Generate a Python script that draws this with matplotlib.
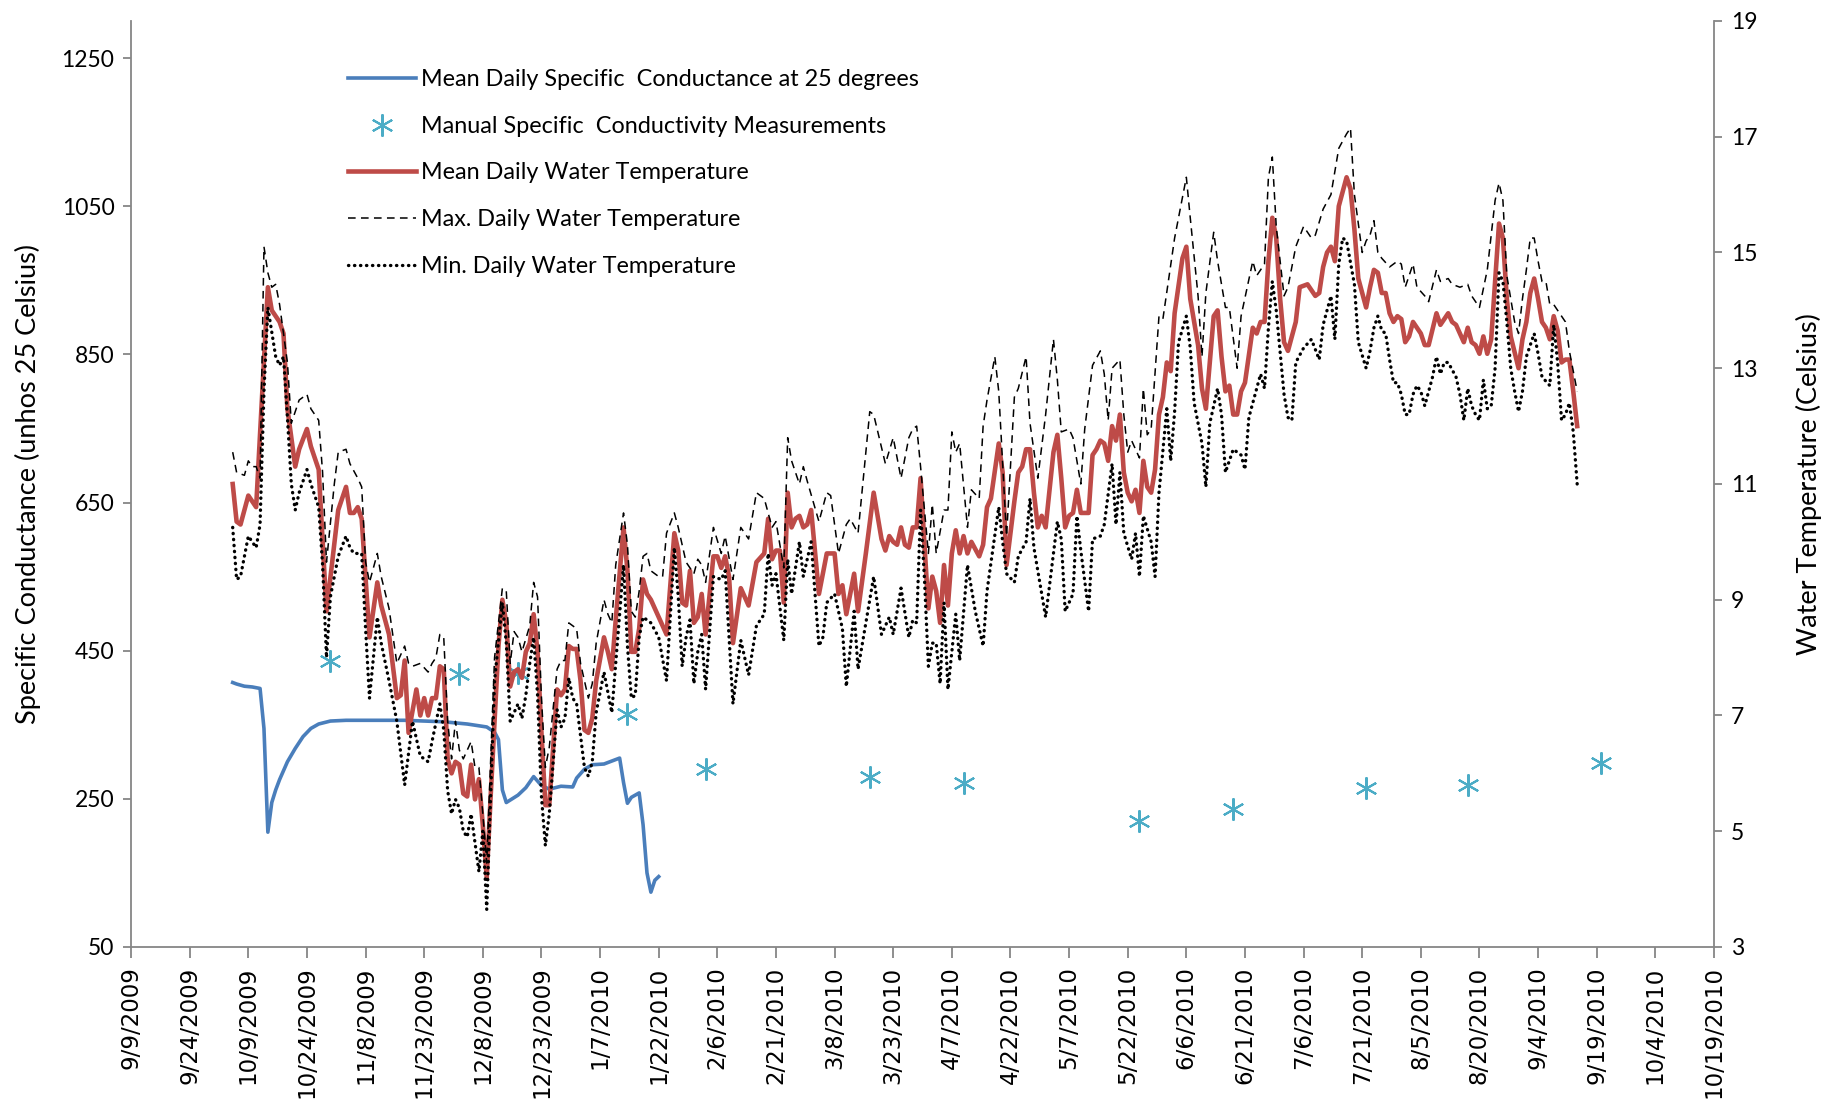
import matplotlib
matplotlib.use('Agg')
import matplotlib.pyplot as plt
import pandas as pd

plt.rcParams['font.family'] = ['Lato', 'DejaVu Sans']

# all day numbers are days since 9/9/2009
START = pd.Timestamp('2009-09-09')
END = pd.Timestamp('2010-10-19')

# Mean daily specific conductance at 25 degrees
cond_days = [26, 27, 29, 31, 33, 34, 35, 36, 37, 38,
             39, 40, 42, 44, 46, 48, 51, 55, 70, 80,
             86, 91, 93, 94, 95, 96, 99, 101, 103, 105,
             107, 110, 113, 114, 116, 118, 121, 125, 126, 127,
             128, 130, 131, 132, 133, 134, 135]
cond_vals = [407, 405, 402, 401, 399, 345, 205, 245, 262, 276,
             288, 300, 318, 334, 345, 351, 355, 356, 356, 354,
             351, 347, 340, 330, 262, 245, 255, 265, 280, 268,
             263, 267, 266, 278, 290, 296, 297, 305, 272, 244,
             252, 258, 215, 150, 124, 140, 145]

# Manual specific conductivity measurements
manual_days = [51, 84, 99, 127, 147, 189, 213, 258, 282, 316, 342, 376]
manual_vals = [436, 418, 420, 364, 290, 279, 271, 220, 236, 264, 269, 299]

# Mean daily water temperature
mean_days = [26, 27, 28, 30, 31, 32, 35, 36, 38, 39,
             40, 42, 43, 45, 46, 48, 50, 53, 55, 56,
             57, 58, 59, 61, 63, 64, 66, 68, 69, 70,
             71, 73, 74, 75, 76, 77, 78, 79, 80, 81,
             82, 83, 84, 85, 86, 87, 88, 89, 90, 91,
             92, 94, 95, 96, 97, 98, 99, 100, 101, 102,
             103, 104, 105, 106, 107, 108, 109, 110, 111, 112,
             113, 114, 115, 116, 117, 118, 119, 121, 122, 123,
             124, 126, 127, 128, 129, 130, 131, 132, 133, 135,
             137, 139, 140, 141, 142, 143, 144, 145, 146, 147,
             149, 150, 151, 152, 153, 154, 156, 158, 160, 162,
             163, 164, 165, 166, 167, 168, 169, 170, 171, 172,
             173, 174, 176, 178, 180, 181, 182, 183, 185, 186,
             188, 190, 192, 193, 194, 195, 196, 197, 198, 199,
             200, 201, 202, 203, 204, 205, 206, 207, 208, 209,
             210, 211, 212, 213, 214, 215, 217, 218, 219, 220,
             222, 223, 224, 226, 227, 228, 229, 230, 231, 232,
             233, 234, 236, 237, 238, 239, 240, 241, 242, 243,
             245, 246, 247, 248, 249, 250, 251, 252, 253, 254,
             255, 256, 257, 258, 259, 260, 261, 262, 263, 264,
             265, 266, 267, 269, 270, 271, 273, 274, 275, 277,
             278, 279, 280, 281, 282, 283, 284, 285, 287, 288,
             289, 290, 291, 292, 293, 294, 295, 296, 298, 299,
             301, 303, 304, 305, 306, 307, 308, 309, 311, 312,
             313, 314, 316, 317, 318, 319, 320, 321, 322, 323,
             324, 325, 326, 327, 328, 330, 331, 332, 334, 335,
             337, 338, 339, 341, 342, 343, 344, 345, 346, 347,
             348, 350, 351, 352, 353, 355, 356, 357, 358, 359,
             360, 361, 362, 363, 364, 365, 366, 367, 368, 369,
             370]
mean_temp = [11.0, 10.35, 10.3, 10.8, 10.7, 10.6, 14.4, 14.0, 13.8, 13.6,
             12.3, 11.3, 11.6, 11.95, 11.65, 11.25, 8.8, 10.55, 10.95, 10.5,
             10.5, 10.6, 10.4, 8.35, 9.3, 8.9, 8.4, 7.3, 7.35, 7.95,
             6.7, 7.45, 7.0, 7.3, 7.0, 7.3, 7.3, 7.85, 7.8, 6.25,
             6.0, 6.2, 6.15, 5.65, 5.6, 6.15, 5.55, 5.9, 5.1, 4.2,
             5.6, 8.2, 9.0, 8.6, 7.5, 7.75, 7.8, 7.65, 8.1, 8.25,
             8.75, 8.1, 6.7, 5.45, 5.45, 6.45, 7.45, 7.35, 7.45, 8.2,
             8.15, 8.15, 7.6, 6.75, 6.7, 6.95, 7.6, 8.35, 8.1, 7.8,
             8.65, 10.25, 9.5, 8.1, 8.1, 8.5, 9.35, 9.1, 9.0, 8.7,
             8.4, 10.15, 9.85, 8.95, 8.9, 9.5, 8.6, 8.7, 9.1, 8.4,
             9.75, 9.75, 9.55, 9.75, 9.4, 8.25, 9.2, 8.9, 9.65, 9.8,
             10.4, 9.7, 9.85, 9.85, 8.95, 10.85, 10.25, 10.4, 10.45, 10.25,
             10.3, 10.55, 9.1, 9.8, 9.8, 9.1, 9.25, 8.75, 9.45, 8.8,
             9.8, 10.85, 10.05, 9.85, 10.1, 10.0, 9.95, 10.25, 9.95, 9.9,
             10.25, 10.25, 11.1, 9.95, 8.85, 9.4, 9.15, 8.6, 9.6, 8.9,
             9.8, 10.2, 9.8, 10.1, 9.8, 10.0, 9.75, 9.95, 10.6, 10.75,
             11.7, 11.2, 9.6, 10.7, 11.2, 11.3, 11.6, 11.6, 10.85, 10.25,
             10.45, 10.25, 11.55, 11.85, 11.1, 10.25, 10.45, 10.5, 10.9, 10.5,
             10.5, 11.5, 11.6, 11.75, 11.7, 11.4, 12.0, 11.75, 12.2, 11.2,
             10.85, 10.7, 10.9, 10.5, 11.4, 10.95, 10.85, 11.25, 12.2, 12.5,
             13.1, 12.95, 13.95, 14.9, 15.1, 14.2, 13.4, 12.65, 12.3, 13.9,
             14.0, 13.2, 12.6, 12.7, 12.2, 12.2, 12.6, 12.75, 13.7, 13.6,
             13.8, 13.8, 14.85, 15.6, 15.25, 14.2, 13.45, 13.3, 13.8, 14.4,
             14.45, 14.25, 14.3, 14.75, 15.0, 15.1, 14.85, 15.8, 16.3, 16.1,
             15.4, 14.55, 14.05, 14.4, 14.7, 14.65, 14.3, 14.3, 13.95, 13.8,
             13.9, 13.85, 13.45, 13.55, 13.8, 13.6, 13.4, 13.4, 13.95, 13.75,
             13.95, 13.8, 13.75, 13.45, 13.7, 13.45, 13.4, 13.25, 13.55, 13.25,
             13.5, 15.5, 15.25, 14.2, 13.55, 13.0, 13.5, 13.8, 14.3, 14.55,
             14.2, 13.8, 13.7, 13.5, 13.9, 13.65, 13.1, 13.15, 13.15, 12.6,
             12.0]

# Max. daily water temperature
max_days = [26, 27, 29, 30, 31, 32, 33, 34, 35, 36,
            37, 38, 40, 41, 43, 45, 46, 48, 49, 50,
            52, 53, 55, 56, 58, 59, 60, 61, 63, 64,
            66, 68, 70, 71, 72, 74, 76, 77, 78, 79,
            80, 81, 82, 83, 84, 85, 86, 87, 88, 89,
            90, 91, 93, 95, 96, 97, 98, 99, 100, 102,
            103, 104, 105, 106, 107, 109, 110, 111, 112, 113,
            114, 115, 117, 118, 119, 121, 122, 123, 124, 126,
            127, 128, 129, 130, 131, 132, 133, 135, 136, 137,
            139, 140, 142, 144, 145, 146, 147, 149, 151, 152,
            154, 156, 158, 160, 162, 164, 165, 167, 168, 169,
            171, 172, 173, 176, 178, 179, 181, 183, 184, 186,
            189, 190, 193, 195, 197, 199, 200, 201, 202, 204,
            205, 206, 208, 209, 210, 211, 212, 214, 215, 217,
            218, 219, 221, 222, 224, 226, 227, 229, 230, 232,
            234, 236, 237, 238, 240, 241, 243, 244, 246, 248,
            249, 250, 251, 253, 254, 255, 256, 258, 259, 260,
            261, 263, 264, 267, 270, 271, 273, 274, 275, 277,
            278, 280, 281, 283, 284, 287, 288, 290, 291, 292,
            293, 295, 296, 298, 300, 302, 303, 305, 307, 309,
            311, 312, 313, 315, 316, 317, 318, 319, 320, 322,
            324, 325, 326, 328, 329, 331, 332, 334, 335, 337,
            338, 340, 342, 343, 345, 347, 349, 350, 351, 352,
            354, 355, 356, 357, 358, 359, 360, 361, 362, 363,
            364, 366, 367, 368, 370]
max_temp = [11.55, 11.2, 11.15, 11.4, 11.3, 11.3, 11.1, 15.1, 14.65, 14.4,
            14.45, 14.1, 13.1, 12.05, 12.45, 12.55, 12.3, 12.1, 11.2, 9.65,
            11.0, 11.55, 11.6, 11.35, 11.1, 10.95, 9.65, 9.3, 9.8, 9.4,
            8.85, 7.9, 8.2, 7.9, 7.85, 7.9, 7.75, 7.9, 8.0, 8.4,
            8.35, 6.9, 6.25, 6.9, 6.4, 6.25, 6.4, 6.55, 6.1, 6.1,
            5.3, 4.45, 8.0, 9.2, 9.15, 7.9, 8.45, 8.35, 8.1, 8.55,
            9.3, 9.05, 7.3, 6.1, 6.45, 7.8, 7.95, 7.95, 8.6, 8.55,
            8.5, 7.9, 7.3, 7.55, 8.25, 9.0, 8.75, 8.6, 9.6, 10.5,
            9.95, 8.8, 8.7, 9.15, 9.75, 9.8, 9.5, 9.4, 9.4, 10.15,
            10.5, 10.25, 9.65, 9.45, 9.7, 9.6, 9.3, 10.25, 9.8, 10.1,
            9.35, 10.25, 10.05, 10.85, 10.75, 10.25, 10.35, 9.55, 11.8, 11.4,
            11.0, 11.3, 11.05, 10.35, 10.85, 10.8, 9.8, 10.3, 10.4, 10.15,
            12.25, 12.2, 11.35, 11.8, 11.1, 11.8, 11.95, 12.0, 11.3, 9.8,
            10.65, 9.8, 10.55, 10.55, 11.9, 11.55, 11.7, 10.25, 10.9, 10.75,
            12.0, 12.45, 13.2, 12.6, 10.1, 12.5, 12.65, 13.2, 12.05, 11.1,
            12.2, 13.5, 12.8, 11.9, 11.95, 11.8, 11.0, 11.95, 13.05, 13.3,
            12.9, 12.1, 13.0, 13.15, 12.2, 11.55, 11.75, 11.45, 12.65, 11.85,
            11.95, 13.9, 13.85, 15.25, 16.3, 15.6, 14.25, 13.2, 14.3, 15.35,
            14.85, 14.05, 14.05, 13.0, 13.9, 14.85, 14.6, 14.8, 16.3, 16.65,
            15.45, 14.25, 14.4, 15.1, 15.45, 15.25, 15.3, 15.75, 16.0, 16.8,
            17.05, 17.15, 16.0, 15.0, 15.2, 15.3, 15.55, 15.0, 14.9, 14.75,
            14.85, 14.8, 14.4, 14.8, 14.4, 14.25, 14.15, 14.7, 14.5, 14.55,
            14.45, 14.4, 14.45, 14.25, 14.05, 14.7, 15.9, 16.2, 15.9, 14.6,
            13.8, 13.6, 14.2, 14.7, 15.25, 15.25, 14.85, 14.5, 14.5, 14.1,
            14.1, 13.9, 13.8, 13.3, 12.6]

# Min. daily water temperature
min_days = [26, 27, 28, 30, 31, 32, 33, 34, 35, 37,
            38, 39, 40, 41, 42, 43, 45, 46, 48, 49,
            50, 51, 53, 55, 56, 57, 59, 60, 61, 63,
            64, 66, 68, 70, 72, 74, 76, 77, 79, 80,
            81, 82, 83, 84, 85, 86, 87, 88, 89, 90,
            91, 93, 95, 96, 97, 98, 99, 100, 101, 102,
            103, 104, 105, 106, 107, 109, 110, 111, 112, 113,
            114, 116, 117, 118, 119, 121, 122, 123, 124, 126,
            127, 128, 129, 130, 131, 132, 133, 135, 137, 139,
            140, 141, 142, 143, 144, 145, 146, 147, 149, 151,
            152, 154, 156, 158, 160, 162, 163, 164, 165, 167,
            168, 169, 171, 172, 174, 176, 177, 178, 180, 182,
            183, 185, 186, 188, 190, 192, 194, 195, 197, 199,
            200, 201, 202, 203, 204, 205, 206, 207, 208, 209,
            211, 212, 214, 216, 218, 219, 222, 223, 224, 226,
            227, 229, 230, 231, 234, 237, 238, 239, 241, 242,
            243, 245, 246, 248, 249, 251, 252, 253, 254, 256,
            257, 258, 259, 261, 262, 263, 265, 266, 267, 268,
            270, 271, 272, 274, 275, 276, 278, 279, 280, 282,
            284, 285, 286, 289, 290, 291, 292, 293, 295, 296,
            297, 298, 300, 302, 304, 305, 307, 308, 309, 310,
            311, 313, 314, 316, 317, 318, 319, 320, 321, 322,
            323, 324, 325, 326, 327, 328, 329, 330, 331, 333,
            334, 335, 336, 337, 339, 340, 341, 342, 343, 344,
            345, 346, 347, 348, 349, 350, 351, 352, 353, 354,
            355, 356, 357, 359, 360, 361, 363, 364, 365, 366,
            367, 368, 369, 370]
min_temp = [10.25, 9.35, 9.4, 10.1, 10.0, 9.9, 10.3, 12.6, 14.05, 13.2,
            13.05, 13.2, 12.15, 11.0, 10.55, 10.85, 11.25, 11.0, 10.6, 9.6,
            8.0, 9.05, 9.75, 10.1, 9.9, 9.8, 9.8, 8.5, 7.3, 8.7,
            8.25, 7.6, 6.9, 5.8, 6.9, 6.3, 6.2, 6.55, 7.2, 6.75,
            5.7, 5.3, 5.55, 5.4, 5.0, 4.9, 5.3, 4.8, 4.3, 5.0,
            3.65, 7.6, 8.95, 8.25, 6.9, 7.05, 7.2, 6.95, 7.35, 7.9,
            8.35, 7.35, 5.6, 4.75, 5.3, 7.1, 6.8, 6.95, 7.65, 7.3,
            7.2, 6.1, 5.95, 6.2, 7.05, 7.75, 7.4, 7.05, 7.9, 9.6,
            8.2, 7.3, 7.35, 8.35, 8.7, 8.65, 8.6, 8.35, 7.6, 9.9,
            9.05, 7.85, 8.35, 8.65, 7.55, 8.1, 8.4, 7.45, 9.4, 9.35,
            9.5, 7.2, 8.3, 7.7, 8.55, 8.75, 9.8, 9.25, 9.45, 8.3,
            9.7, 9.1, 10.0, 9.4, 10.0, 8.2, 8.35, 8.95, 9.1, 8.5,
            7.5, 8.8, 7.8, 8.6, 9.4, 8.4, 8.7, 8.4, 9.2, 8.35,
            8.65, 8.6, 10.55, 9.35, 7.85, 8.25, 8.25, 7.55, 8.95, 7.45,
            8.75, 7.95, 9.6, 8.8, 8.2, 9.15, 10.6, 10.0, 9.45, 9.3,
            9.75, 10.0, 10.75, 9.9, 8.7, 10.35, 10.05, 8.8, 9.1, 10.45,
            9.85, 8.8, 10.05, 10.1, 10.3, 11.35, 10.3, 11.2, 10.15, 9.7,
            10.15, 9.4, 10.45, 10.0, 9.4, 10.85, 12.3, 11.4, 12.25, 13.45,
            13.9, 13.35, 12.4, 11.7, 10.95, 12.05, 12.65, 12.2, 11.2, 11.6,
            11.5, 11.25, 12.15, 12.9, 12.65, 13.7, 14.5, 14.0, 12.55, 12.15,
            12.1, 13.1, 13.35, 13.5, 13.15, 13.75, 14.25, 13.5, 14.8, 15.25,
            15.2, 14.45, 13.45, 13.0, 13.3, 13.7, 13.9, 13.65, 13.6, 13.15,
            12.75, 12.75, 12.55, 12.2, 12.2, 12.55, 12.7, 12.6, 12.35, 12.85,
            13.2, 12.9, 13.1, 13.1, 12.85, 12.55, 12.1, 12.65, 12.35, 12.2,
            12.1, 12.8, 12.3, 12.35, 13.0, 14.65, 14.5, 13.8, 13.0, 12.6,
            12.25, 12.6, 13.2, 13.6, 13.25, 12.85, 12.7, 13.75, 13.1, 12.1,
            12.2, 12.4, 11.9, 11.0]

tick_dates = pd.date_range(START, END, freq='15D')
tick_labels = [f'{t.month}/{t.day}/{t.year}' for t in tick_dates]


def to_dates(days):
    return START + pd.to_timedelta(days, unit='D')


fig, ax1 = plt.subplots(figsize=(18.41, 11.05), dpi=100)
fig.subplots_adjust(left=0.0712, right=0.931, top=0.981, bottom=0.143)
ax2 = ax1.twinx()

h_cond, = ax1.plot(to_dates(cond_days), cond_vals, color='#4A7EBB', lw=2.6,
                   label='Mean Daily Specific  Conductance at 25 degrees')
h_man, = ax1.plot(to_dates(manual_days), manual_vals, ls='none', marker=(6, 2, 0),
                  ms=16, mec='#4BACC6', mfc='none', mew=1.5,
                  label='Manual Specific  Conductivity Measurements')
h_mean, = ax2.plot(to_dates(mean_days), mean_temp, color='#BE4B48', lw=3.3,
                   label='Mean Daily Water Temperature')
h_max, = ax2.plot(to_dates(max_days), max_temp, color='black', lw=1.1,
                  ls=(0, (5, 3.5)), label='Max. Daily Water Temperature')
h_min, = ax2.plot(to_dates(min_days), min_temp, color='black', lw=2.4,
                  ls=(0, (0.1, 1.7)), dash_capstyle='round',
                  label='Min. Daily Water Temperature')

ax1.set_xlim(START, END)
ax1.set_xticks(tick_dates)
ax1.set_xticklabels(tick_labels, rotation=90, fontsize=16.5, family='DejaVu Sans')

ax1.set_ylim(50, 1300)
ax1.set_yticks(range(50, 1251, 200))
ax2.set_ylim(3, 19)
ax2.set_yticks(range(3, 20, 2))

grey = '#868686'
for ax in (ax1, ax2):
    ax.spines['top'].set_visible(False)
    for s in ('left', 'right', 'bottom'):
        ax.spines[s].set_color(grey)
        ax.spines[s].set_linewidth(1.3)
ax1.spines['right'].set_visible(False)
ax2.spines['left'].set_visible(False)
ax2.spines['bottom'].set_visible(False)

ax1.tick_params(axis='y', length=6, width=1.3, color=grey, labelsize=16.5, pad=6)
ax1.tick_params(axis='x', length=8, width=1.3, color=grey, pad=6)
ax2.tick_params(axis='y', length=6, width=1.3, color=grey, labelsize=16.5, pad=6)

ax1.set_ylabel('Specific Conductance (unhos 25 Celsius)', fontsize=19.5, labelpad=15)
ax2.set_ylabel('Water Temperature (Celsius)', fontsize=19.5, labelpad=28)

ax2.legend(handles=[h_cond, h_man, h_mean, h_max, h_min], loc='upper left',
           bbox_to_anchor=(0.137, 0.948), frameon=False, fontsize=16.8,
           handlelength=2.9, handletextpad=0.25, labelspacing=1.1,
           borderpad=0, borderaxespad=0, numpoints=1)

fig.savefig('out.png', dpi=100)
